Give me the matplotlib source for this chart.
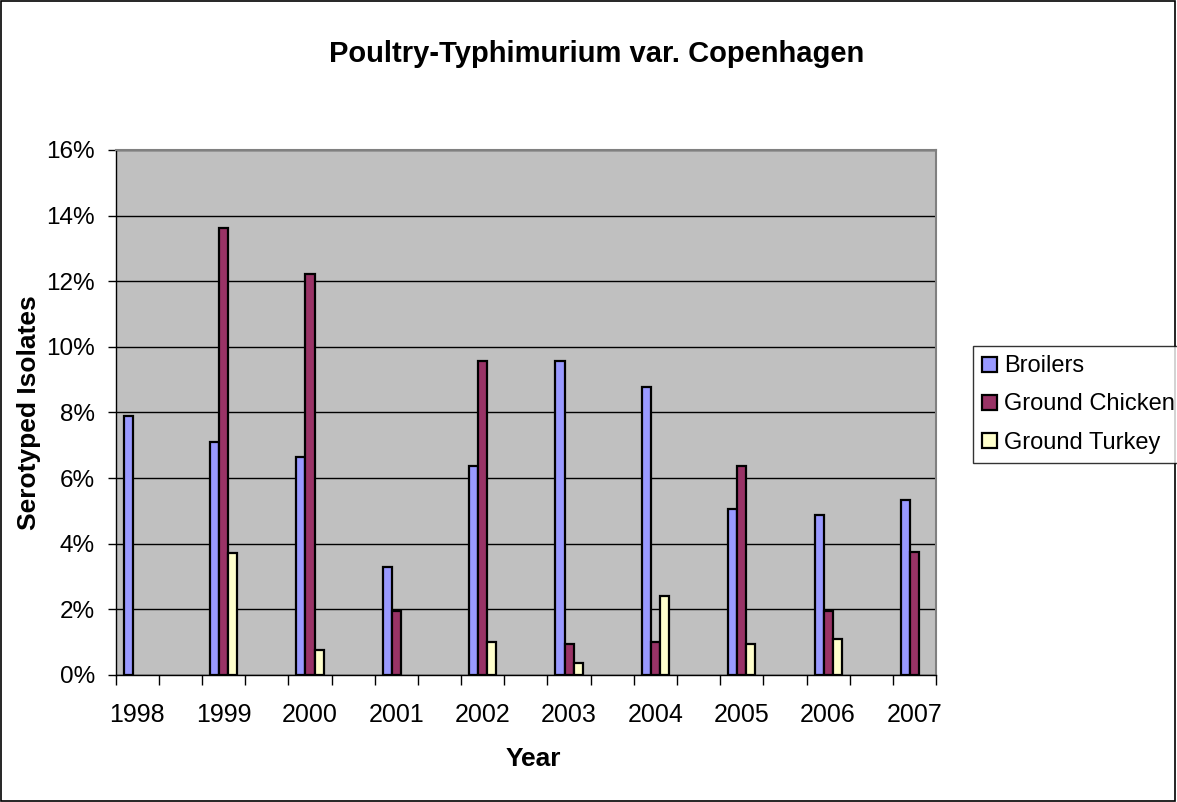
import matplotlib.pyplot as plt
import matplotlib.ticker as mticker
from matplotlib.patches import Rectangle
import numpy as np

plt.rcParams['font.family'] = ['Liberation Sans', 'DejaVu Sans']

years = ["1998", "1999", "2000", "2001", "2002", "2003", "2004", "2005", "2006", "2007"]
broilers = [7.9, 7.1, 6.65, 3.3, 6.37, 9.57, 8.78, 5.05, 4.88, 5.33]
ground_chicken = [0, 13.62, 12.21, 1.96, 9.57, 0.94, 1.0, 6.36, 1.96, 3.76]
ground_turkey = [0, 3.71, 0.77, 0, 1.0, 0.37, 2.4, 0.94, 1.11, 0]
series = ["Broilers", "Ground Chicken", "Ground Turkey"]
colors = ["#9999FF", "#993366", "#FFFFCC"]

fig = plt.figure(figsize=(11.77, 8.02), dpi=100)
ax = fig.add_axes([0.0983, 0.1584, 0.697, 0.6546])
ax.set_facecolor("#C0C0C0")

x = np.arange(len(years))
w = 0.105
for j, (vals, name, c) in enumerate(zip([broilers, ground_chicken, ground_turkey], series, colors)):
    v = np.array(vals, dtype=float)
    mask = v > 0
    ax.bar(x[mask] + (j - 1) * w, v[mask], width=w, color=c, edgecolor="black",
           linewidth=1.6, label=name, zorder=3)

ax.set_xlim(-0.25, 9.25)
ax.set_ylim(0, 16)
ax.set_yticks(np.arange(0, 17, 2))
ax.yaxis.set_major_formatter(mticker.FuncFormatter(lambda v, p: f"{v:.0f}%"))
ax.yaxis.grid(True, color="black", linewidth=1)
ax.set_axisbelow(True)

# tick marks sit between the year groups, labels at the group centres
ax.set_xticks(np.arange(-0.25, 9.3, 0.5))
ax.set_xticklabels([])
ax.set_xticks(x, minor=True)
ax.set_xticklabels(years, minor=True)
ax.tick_params(axis="x", which="major", length=7, width=1, direction="out")
ax.tick_params(axis="x", which="minor", length=0, pad=20, labelsize=18)
ax.tick_params(axis="y", length=6, width=1, pad=9, labelsize=17.5)

for s in ["top", "right"]:
    ax.spines[s].set_color("#808080")
    ax.spines[s].set_linewidth(1.5)
for s in ["left", "bottom"]:
    ax.spines[s].set_color("black")
    ax.spines[s].set_linewidth(1)

fig.text(0.507, 0.933, "Poultry-Typhimurium var. Copenhagen", ha="center", va="center",
         fontsize=21, fontweight="bold")
fig.text(0.453, 0.054, "Year", ha="center", va="center", fontsize=19, fontweight="bold")
fig.text(0.025, 0.486, "Serotyped Isolates", ha="center", va="center", rotation=90,
         fontsize=19, fontweight="bold")

leg = fig.legend(loc="upper left", bbox_to_anchor=(0.8267, 0.5686), bbox_transform=fig.transFigure,
                 borderaxespad=0, fontsize=17, frameon=True, fancybox=False,
                 handlelength=0.6, handleheight=0.6, handletextpad=0.3,
                 labelspacing=0.68, borderpad=0.4)
leg.get_frame().set_edgecolor("black")
leg.get_frame().set_linewidth(1)

fig.patches.append(Rectangle((0.0005, 0.0008), 0.998, 0.998, transform=fig.transFigure,
                             fill=False, edgecolor="black", linewidth=1.2))

fig.savefig("out.png", dpi=100)
